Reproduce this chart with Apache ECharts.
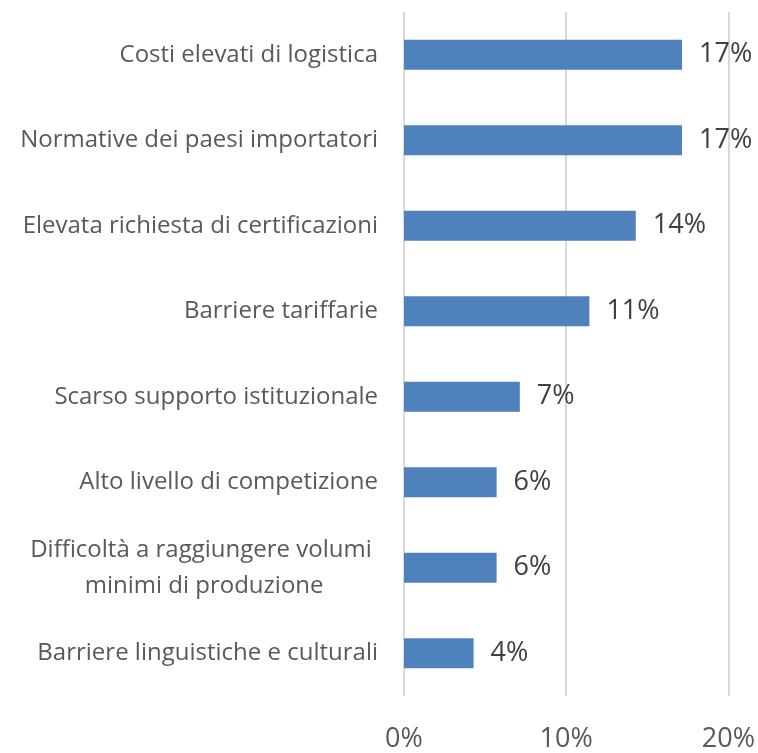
<!DOCTYPE html>
<html>
<head>
<meta charset="utf-8">
<script src="https://cdn.jsdelivr.net/npm/echarts@6/dist/echarts.min.js"></script>
<style>
  html, body { margin: 0; padding: 0; background: #fff; }
  #chart { width: 758px; height: 753px; }
</style>
</head>
<body>
<div id="chart"></div>
<script>
const categories = [
  'Costi elevati di logistica',
  'Normative dei paesi importatori',
  'Elevata richiesta di certificazioni',
  'Barriere tariffarie',
  'Scarso supporto istituzionale',
  'Alto livello di competizione',
  'Difficoltà a raggiungere volumi \nminimi di produzione',
  'Barriere linguistiche e culturali'
]
const values = [17.14, 17.14, 14.29, 11.43, 7.14, 5.71, 5.71, 4.29]
const xTicks = [0, 10, 20]

const chart = echarts.init(document.getElementById('chart'))

const option = {
  animation: false,
  grid: {
    left: 404,
    right: 29,
    top: 12,
    bottom: 53,
    containLabel: false
  },
  xAxis: {
    type: 'value',
    min: xTicks[0],
    max: xTicks[xTicks.length - 1],
    interval: 10,
    axisLine: { show: false },
    axisTick: { show: false },
    axisLabel: {
      formatter: '{value}%',
      color: '#595959',
      fontFamily: 'Open Sans',
      fontSize: 27,
      margin: 30
    },
    splitLine: {
      lineStyle: { color: '#d9d9d9', width: 2 }
    }
  },
  yAxis: {
    type: 'category',
    data: categories,
    inverse: true,
    axisLine: { show: false },
    axisTick: { show: false },
    axisLabel: {
      margin: 26,
      formatter: (v) => v.split('\n').map(s => '{c|' + s + '}').join('\n'),
      rich: {
        c: {
          color: '#595959',
          fontFamily: 'Open Sans',
          fontSize: 24,
          lineHeight: 36,
          align: 'center'
        }
      }
    }
  },
  series: [
    {
      type: 'bar',
      data: values,
      barWidth: 30,
      itemStyle: { color: '#4f81bd' },
      label: {
        show: true,
        position: 'right',
        distance: 17,
        formatter: (p) => Math.round(p.value) + '%',
        color: '#404040',
        fontFamily: 'Open Sans',
        fontSize: 27
      }
    }
  ]
}

chart.setOption(option)
</script>
</body>
</html>
